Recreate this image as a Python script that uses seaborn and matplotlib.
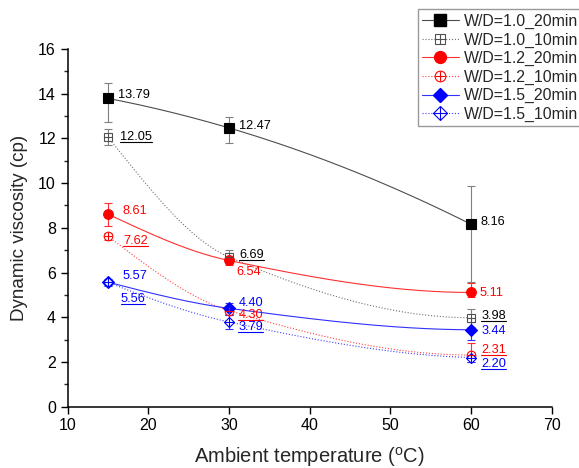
import numpy as np
import pandas as pd
import matplotlib
matplotlib.use("Agg")
import matplotlib.pyplot as plt
import seaborn as sns
from matplotlib.lines import Line2D
from matplotlib.ticker import MultipleLocator

# Ambient temperatures (°C)
temperature = [15, 30, 60]

# Dynamic viscosity (cp) for each W/D ratio and mixing time
wd10_20 = [13.79, 12.47, 8.16]
wd10_10 = [12.05, 6.69, 3.98]
wd12_20 = [8.61, 6.54, 5.11]
wd12_10 = [7.62, 4.30, 2.31]
wd15_20 = [5.57, 4.40, 3.44]
wd15_10 = [5.56, 3.79, 2.20]

# Error bar lengths: [below, above]
wd10_20_err = [[1.04, 0.66, 2.60], [0.71, 0.50, 1.71]]
wd10_10_err = [[0.35, 0.32, 0.40], [0.35, 0.32, 0.40]]
wd12_20_err = [[0.52, 0.20, 0.20], [0.52, 0.20, 0.42]]
wd12_10_err = [[0.15, 0.20, 0.30], [0.15, 0.20, 0.53]]
wd15_20_err = [[0.15, 0.25, 0.45], [0.15, 0.25, 0.36]]
wd15_10_err = [[0.10, 0.30, 0.20], [0.10, 0.30, 0.20]]

series_labels = ["W/D=1.0_20min", "W/D=1.0_10min", "W/D=1.2_20min",
                 "W/D=1.2_10min", "W/D=1.5_20min", "W/D=1.5_10min"]

sns.set_style("ticks")
plt.rcParams["font.family"] = ["Liberation Sans", "DejaVu Sans"]
plt.rcParams["mathtext.fontset"] = "custom"
plt.rcParams["mathtext.rm"] = "Liberation Sans"


def pchip(x, y, xs):
    """Monotone piecewise cubic Hermite curve through (x, y)."""
    x = np.asarray(x, float)
    y = np.asarray(y, float)
    h = np.diff(x)
    d = np.diff(y) / h
    n = len(x)
    m = np.zeros(n)
    for k in range(1, n - 1):
        if d[k - 1] * d[k] > 0:
            w1 = 2 * h[k] + h[k - 1]
            w2 = h[k] + 2 * h[k - 1]
            m[k] = (w1 + w2) / (w1 / d[k - 1] + w2 / d[k])
    def end(h0, h1, d0, d1):
        v = ((2 * h0 + h1) * d0 - h0 * d1) / (h0 + h1)
        if np.sign(v) != np.sign(d0):
            return 0.0
        if np.sign(d0) != np.sign(d1) and abs(v) > abs(3 * d0):
            return 3 * d0
        return v
    m[0] = end(h[0], h[1], d[0], d[1])
    m[-1] = end(h[-1], h[-2], d[-1], d[-2])
    idx = np.clip(np.searchsorted(x, xs) - 1, 0, n - 2)
    t = (xs - x[idx]) / h[idx]
    h00 = 2 * t**3 - 3 * t**2 + 1
    h10 = t**3 - 2 * t**2 + t
    h01 = -2 * t**3 + 3 * t**2
    h11 = t**3 - t**2
    return (h00 * y[idx] + h10 * h[idx] * m[idx]
            + h01 * y[idx + 1] + h11 * h[idx] * m[idx + 1])


# Drawing style for each series
styles = [
    dict(values=wd10_20, err=wd10_20_err, line="#4d4d4d", ecolor="#808080", text="black",
         ls="-", marker="s", ms=6.5, filled=True, mc="black",
         offsets=[(10, 3), (10, 2), (9.5, 2)]),
    dict(values=wd10_10, err=wd10_10_err, line="#707070", ecolor="#808080", text="black",
         ls=":", marker="s", ms=6.0, filled=False, mc="#505050",
         offsets=[(12, 0), (10, 2), (10, 1.5)]),
    dict(values=wd12_20, err=wd12_20_err, line="#ff3030", ecolor="#ff3030", text="red",
         ls="-", marker="o", ms=7.0, filled=True, mc="red",
         offsets=[(14, 3.6), (7, -12), (8, -1)]),
    dict(values=wd12_10, err=wd12_10_err, line="#ff4040", ecolor="#ff3030", text="red",
         ls=":", marker="o", ms=6.2, filled=False, mc="red",
         offsets=[(15, -4.3), (9.3, -4), (10, 5)]),
    dict(values=wd15_20, err=wd15_20_err, line="#3030ff", ecolor="#3030ff", text="blue",
         ls="-", marker="D", ms=5.8, filled=True, mc="blue",
         offsets=[(14.5, 6), (9.3, 5.7), (10, -1)]),
    dict(values=wd15_10, err=wd15_10_err, line="#4040ff", ecolor="#3030ff", text="blue",
         ls=":", marker="D", ms=5.2, filled=False, mc="blue",
         offsets=[(12.5, -17), (9.3, -5.3), (10, -6)]),
]

fig = plt.figure(figsize=(5.79, 4.68), dpi=100)
ax = fig.add_axes([0.1169, 0.131, 0.836, 0.7643])

xs = np.linspace(min(temperature), max(temperature), 300)
underlined = []
handles = []

for lab, st in zip(series_labels, styles):
    vals = st["values"]
    # smooth connecting curve through the three measurements
    curve = pd.DataFrame({"T": xs, "V": pchip(temperature, vals, xs)})
    sns.lineplot(data=curve, x="T", y="V", ax=ax, color=st["line"],
                 linestyle=st["ls"], linewidth=0.8, zorder=2)

    ax.errorbar(temperature, vals, yerr=st["err"], fmt="none", ecolor=st["ecolor"],
                elinewidth=0.8, capsize=3, capthick=0.8, zorder=3)

    diamond = st["marker"] == "D"
    if st["filled"]:
        ax.plot(temperature, vals, linestyle="none", marker=st["marker"], ms=st["ms"],
                mfc=st["mc"], mec=st["mc"], mew=0.8, zorder=4)
        h = Line2D([], [], color=st["line"], ls=st["ls"], lw=0.8, marker=st["marker"],
                   ms=st["ms"] + 1.5, mfc=st["mc"], mec=st["mc"])
    else:
        ax.plot(temperature, vals, linestyle="none", marker=st["marker"], ms=st["ms"],
                mfc="white", mec=st["mc"], mew=0.8, zorder=4)
        ax.plot(temperature, vals, linestyle="none", marker="+",
                ms=st["ms"] * (1.414 if diamond else 1.0),
                mec=st["mc"], mew=0.8, zorder=5)
        h = (Line2D([], [], color=st["line"], ls=st["ls"], lw=0.8, marker=st["marker"],
                    ms=st["ms"] + 1.5, mfc="white", mec=st["mc"], mew=0.8),
             Line2D([], [], ls="none", marker="+",
                    ms=(st["ms"] + 1.5) * (1.414 if diamond else 1.0),
                    mec=st["mc"], mew=0.8))
    handles.append(h)

    for x, v, (dx, dy) in zip(temperature, vals, st["offsets"]):
        t = ax.annotate(f"{v:.2f}", xy=(x, v), xytext=(dx / 1.389, dy / 1.389),
                        textcoords="offset points", ha="left", va="center",
                        fontsize=9.2, color=st["text"], zorder=6)
        if not st["filled"]:
            underlined.append((t, st["text"]))

ax.set_xlim(10, 70)
ax.set_ylim(0, 16)
ax.xaxis.set_major_locator(MultipleLocator(10))
ax.yaxis.set_major_locator(MultipleLocator(2))
ax.yaxis.set_minor_locator(MultipleLocator(1))
ax.tick_params(which="major", direction="out", length=5, width=1, labelsize=11.5, colors="black")
ax.tick_params(which="minor", direction="out", length=3, width=1)
ax.tick_params(axis="x", which="minor", length=0)
sns.despine(ax=ax)
for sp in ("left", "bottom"):
    ax.spines[sp].set_linewidth(1.1)
    ax.spines[sp].set_color("black")

ax.set_xlabel(r"Ambient temperature ($\mathregular{^{o}}$C)", fontsize=14.5, labelpad=8.5)
ax.set_ylabel("Dynamic viscosity (cp)", fontsize=13.5, labelpad=7)

leg = fig.legend(handles, series_labels, loc="upper left", bbox_to_anchor=(0.7214, 0.980),
                 bbox_transform=fig.transFigure, frameon=True, fancybox=False,
                 edgecolor="#808080", fontsize=11.4, handlelength=2.3, handletextpad=0.34,
                 labelspacing=0.22, borderpad=0.28, borderaxespad=0, numpoints=1)
leg.get_frame().set_linewidth(1.0)

# underline the labels of the 10 min series
fig.canvas.draw()
inv = fig.transFigure.inverted()
for t, c in underlined:
    bb = t.get_window_extent()
    (x0, y0), (x1, _) = inv.transform([(bb.x0, bb.y0 + 1), (bb.x1, bb.y0 + 1)])
    fig.add_artist(Line2D([x0, x1], [y0, y0], transform=fig.transFigure, color=c, lw=0.8))

fig.savefig("out.png", dpi=100)
